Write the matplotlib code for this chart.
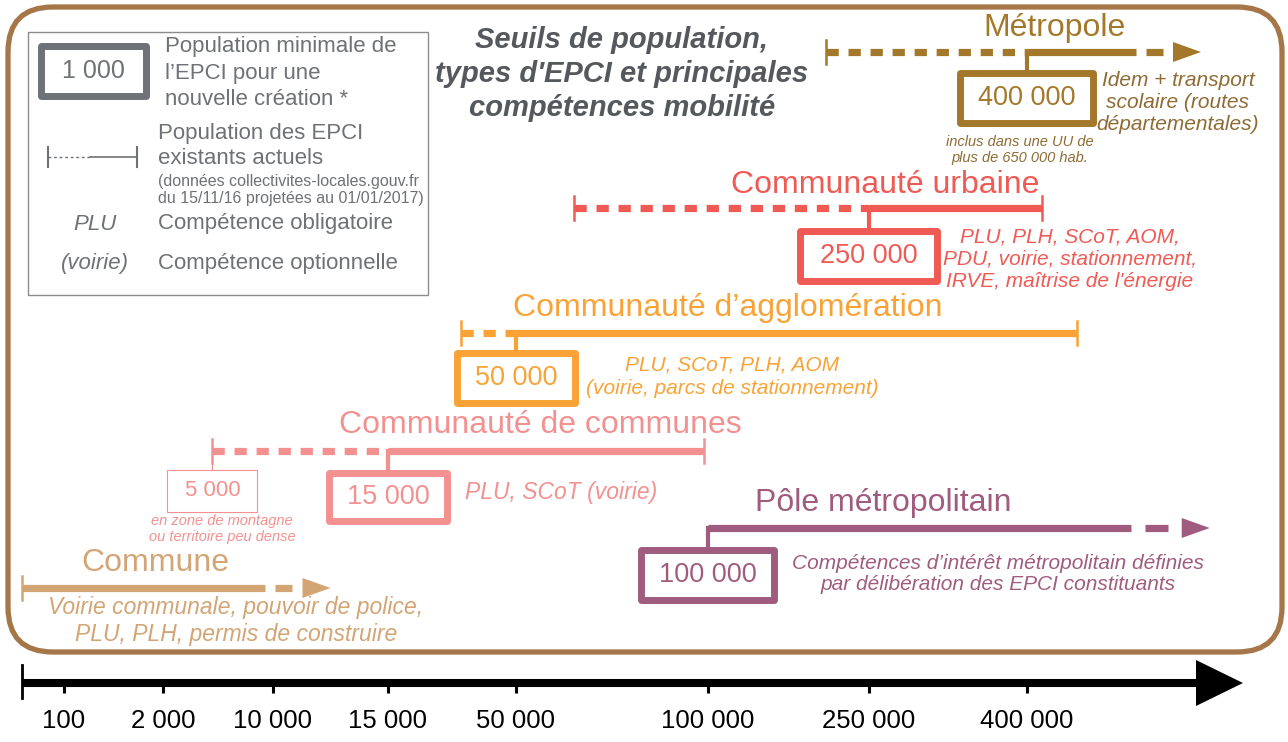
import matplotlib
matplotlib.use('Agg')
import matplotlib.pyplot as plt
from matplotlib import font_manager
from matplotlib.patches import Rectangle, FancyBboxPatch, Polygon
import numpy as np

plt.rcParams['font.family'] = ['Liberation Sans', 'DejaVu Sans']

# axe des populations
tick_vals = [100, 2000, 10000, 15000, 50000, 100000, 250000, 400000]
tick_labels = ['100', '2 000', '10 000', '15 000', '50 000', '100 000', '250 000', '400 000']

# types d'EPCI
types = ['Métropole', 'Communauté urbaine', 'Communauté d’agglomération',
         'Communauté de communes', 'Pôle métropolitain', 'Commune']
seuil = [400000, 250000, 50000, 15000, 100000, None]
seuil_txt = ['400 000', '250 000', '50 000', '15 000', '100 000', None]
pop_min = [210000, 65000, 35000, 5600, 100000, 0]
pop_max = [650000, 435000, 515000, 99000, 640000, 9400]
fleche = [800000, None, None, None, 820000, 12500]   # pointe de la flèche (pas de borne)
competences = ['Idem + transport\nscolaire (routes\ndépartementales)',
               'PLU, PLH, SCoT, AOM,\nPDU, voirie, stationnement,\nIRVE, maîtrise de l\'énergie',
               'PLU, SCoT, PLH, AOM\n(voirie, parcs de stationnement)',
               'PLU, SCoT (voirie)',
               'Compétences d’intérêt métropolitain définies\npar délibération des EPCI constituants',
               'Voirie communale, pouvoir de police,\nPLU, PLH, permis de construire']
notes = ['inclus dans une UU de\nplus de 650 000 hab.', None, None,
         'en zone de montagne\nou territoire peu dense', None, None]
exception_txt = '5 000'

couleurs = ['#a3782a', '#f05a55', '#f9a337', '#f39191', '#a05c7e', '#d3a575']
couleurs_txt = ['#8d6b33', '#f05a55', '#f9a337', '#f39191', '#a05c7e', '#d3a575']

# mise en page (pixels)
y_ligne = [52, 208, 333, 451, 528, 588]
box_wh = [(133, 50), (137, 50), (118, 50), (118, 48), (133, 50), None]
box_top = [73, 231, 353, 473, 550, None]
pos_label = [(1055, 28), (885, 185), (728, 308), (540, 425), (883, 503), (155, 563)]
pos_comp = [(1178, 103, 'center'), (1070, 259, 'center'), (732, 377, 'center'),
            (465, 492, 'left'), (998, 574, 'center'), (236, 621, 'center')]
taille_comp = [15, 15, 15, 16.5, 15, 16.5]
interligne_comp = [1.2, 1.22, 1.28, 1.2, 1.17, 1.25]
pos_note = [(1020, 150), None, None, (222, 529), None, None]

# échelle non linéaire de l'axe (ancrages valeur -> pixel)
ancre_vals = [-52, 0, 100, 2000, 10000, 15000, 50000, 100000, 250000, 400000, 1000000]
ancre_pos = [0, 22, 64, 163, 273, 388, 516, 708, 869, 1027, 1288]


def fwd(v):
    return np.interp(v, ancre_vals, ancre_pos)


def inv(p):
    return np.interp(p, ancre_pos, ancre_vals)


fig = plt.figure(figsize=(12.88, 7.42), dpi=100)
pax = fig.add_axes([0, 0, 1, 1])
pax.set_xlim(0, 1288)
pax.set_ylim(742, 0)
pax.axis('off')

ax = fig.add_axes([0, 0, 1, 1])
ax.set_xscale('function', functions=(fwd, inv))
ax.set_xlim(ancre_vals[0], ancre_vals[-1])
ax.set_ylim(742, 0)
ax.patch.set_visible(False)
for s in ['top', 'left', 'right']:
    ax.spines[s].set_visible(False)
ax.set_yticks([])


def px(v):
    return ax.transData.transform((v, 0))[0]


# cadre arrondi
pax.add_patch(FancyBboxPatch((8, 7), 1274, 645, boxstyle='round,pad=0,rounding_size=45',
                             fc='white', ec='#a57648', lw=3.8))

# axe du bas
ax.spines['bottom'].set_position(('data', 683))
ax.spines['bottom'].set_linewidth(5.8)
ax.spines['bottom'].set_capstyle('butt')
ax.spines['bottom'].set_bounds(0, inv(1200))
narrow = 'Liberation Sans Narrow' in {f.name for f in font_manager.fontManager.ttflist}
ax.set_xticks(tick_vals, tick_labels)
ax.tick_params(axis='x', direction='out', length=7, width=2.2, pad=12,
               labelsize=22 if narrow else 18.5, colors='black')
for lab in ax.get_xticklabels():
    lab.set_family(['Liberation Sans Narrow', 'Liberation Sans'] if narrow else ['Liberation Sans'])
ax.xaxis.set_minor_locator(matplotlib.ticker.NullLocator())
pax.plot([px(0)] * 2, [665, 698], color='black', lw=2)
pax.add_patch(Polygon([(1196, 660), (1243, 683), (1196, 706)], closed=True, fc='black', ec='none'))

# légende
pax.add_patch(Rectangle((28, 32), 400, 263, fc='white', ec='#8c8c8c', lw=1))
gris = '#6e7175'
pax.add_patch(Rectangle((41, 46), 105, 50, fc='white', ec=gris, lw=5, joinstyle='round'))
pax.text(93, 71, '1 000', ha='center', va='center', fontsize=18, color=gris)
pax.text(165, 73, 'Population minimale de\nl’EPCI pour une\nnouvelle création *',
         ha='left', va='center', fontsize=16, color=gris, linespacing=1.34)
pax.text(158, 146, 'Population des EPCI\nexistants actuels', ha='left', va='center',
         fontsize=16, color=gris, linespacing=1.3)
pax.text(158, 190, '(données collectivites-locales.gouv.fr\ndu 15/11/16 projetées au 01/01/2017)',
         ha='left', va='center', fontsize=11.5, color=gris, linespacing=1.15)
pax.text(158, 224, 'Compétence obligatoire', ha='left', va='center', fontsize=16, color=gris)
pax.text(158, 264, 'Compétence optionnelle', ha='left', va='center', fontsize=16, color=gris)
pax.text(95, 224, 'PLU', ha='center', va='center', fontsize=16, color=gris, style='italic')
pax.text(95, 264, '(voirie)', ha='center', va='center', fontsize=16, color=gris, style='italic')
pax.plot([48, 48], [147, 167], color=gris, lw=1.5)
pax.plot([137, 137], [147, 167], color=gris, lw=1.5)
pax.plot([48, 90], [157, 157], color=gris, lw=1, ls=(0, (2, 2)))
pax.plot([90, 137], [157, 157], color=gris, lw=1.2)

# titre
pax.text(622, 74, 'Seuils de population,\ntypes d\'EPCI et principales\ncompétences mobilité',
         ha='center', va='center', fontsize=21, fontweight='bold', style='italic',
         color='#55585d', linespacing=1.26)

# barres des types d'EPCI
for i, t in enumerate(types):
    c = couleurs[i]
    y = y_ligne[i]
    debut_plein = pop_min[i]
    if seuil[i] is not None and pop_min[i] < seuil[i]:
        ax.plot([pop_min[i], seuil[i]], [y, y], color=c, lw=5.2,
                ls=(0, (1.7, 1.35)), dash_capstyle='butt')
        debut_plein = seuil[i]
    ax.plot([debut_plein, pop_max[i]], [y, y], color=c, lw=5.2, solid_capstyle='butt')
    if seuil[i] is None or pop_min[i] < seuil[i]:
        ax.plot([pop_min[i]] * 2, [y - 12, y + 12], color=c, lw=1.8)
    if fleche[i] is None:
        ax.plot([pop_max[i]] * 2, [y - 12, y + 12], color=c, lw=1.8)
    else:
        x0 = px(pop_max[i])
        xt = px(fleche[i])
        xb = xt - 28
        gap = (xb - x0) * 0.28
        pax.plot([x0 + gap, xb - gap], [y, y], color=c, lw=5.2, solid_capstyle='butt')
        pax.add_patch(Polygon([(xb, y - 10), (xt, y), (xb, y + 10)], closed=True, fc=c, ec='none'))

    if seuil[i] is not None:
        w, h = box_wh[i]
        cx = px(seuil[i])
        ax.plot([seuil[i]] * 2, [y, box_top[i]], color=c, lw=3)
        pax.add_patch(Rectangle((cx - w / 2, box_top[i]), w, h, fc='white', ec=c, lw=5,
                                joinstyle='round', zorder=3))
        pax.text(cx, box_top[i] + h / 2, seuil_txt[i], ha='center', va='center',
                 fontsize=19.5, color=c, zorder=4)

    lx, ly = pos_label[i]
    pax.text(lx, ly, t, ha='center', va='center', fontsize=23, color=c)
    cxp, cyp, ha = pos_comp[i]
    pax.text(cxp, cyp, competences[i], ha=ha, va='center', fontsize=taille_comp[i],
             style='italic', color=couleurs_txt[i], linespacing=interligne_comp[i])
    if notes[i] is not None:
        nx, ny = pos_note[i]
        pax.text(nx, ny, notes[i], ha='center', va='center', fontsize=10.5,
                 style='italic', color=couleurs_txt[i], linespacing=1.15)

# cas dérogatoire 5 000 (communauté de communes)
i_cc = types.index('Communauté de communes')
cx5 = px(pop_min[i_cc])
pax.plot([cx5, cx5], [y_ligne[i_cc], 470], color=couleurs[i_cc], lw=0.8)
pax.add_patch(Rectangle((cx5 - 45, 470), 90, 42, fc='white', ec=couleurs[i_cc], lw=0.8))
pax.text(cx5, 491, exception_txt, ha='center', va='center', fontsize=16, color=couleurs[i_cc])

fig.savefig('out.png', dpi=100)
